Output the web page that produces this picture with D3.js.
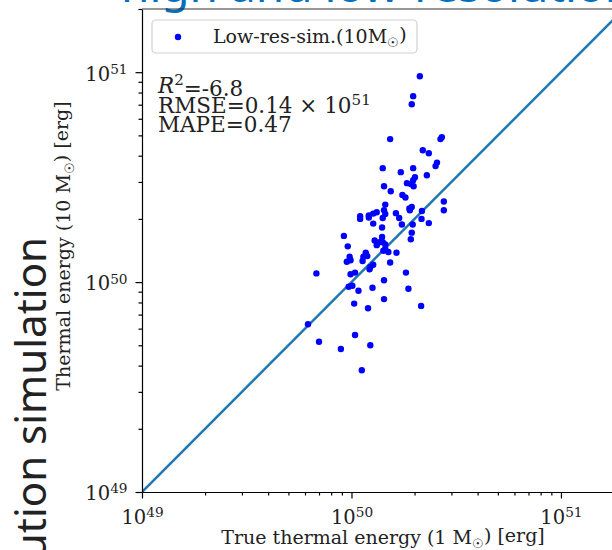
<!DOCTYPE html>
<html>
<head>
<meta charset="utf-8">
<title>Thermal energy: low-res vs true</title>
<style>
  body { margin: 0; background: white; }
  svg { display: block; font-family: "DejaVu Serif", serif; }
  .axis path, .axis line { stroke: black; stroke-width: 1.2; }
  .axis text { font-family: "DejaVu Serif", serif; font-size: 19.5px; fill: #222; }
</style>
</head>
<body>
<svg width="612" height="550"></svg>
<script src="https://d3js.org/d3.v7.min.js"></script>
<script>
// energies are in units of 1e50 erg
const trueEnergy = [
  2.12, 1.97, 1.94, 1.53, 2.66, 2.70, 2.19, 2.34, 1.41, 1.97,
  1.72, 2.56, 2.52, 2.29, 1.43, 1.54, 2.01, 1.97, 1.84, 1.92,
  1.98, 1.75, 1.81, 1.94, 2.76, 2.76, 2.17, 1.45, 1.89, 1.90,
  1.10, 1.10, 1.21, 1.21, 1.27, 1.32, 1.43, 1.45, 1.41, 1.63,
  1.69, 1.27, 1.40, 1.74, 1.96, 2.16, 2.34, 0.92, 1.40, 1.29,
  1.36, 1.41, 1.45, 1.32, 1.94, 1.92, 0.96, 1.45, 1.50, 1.42,
  1.64, 1.17, 1.19, 1.14, 1.13, 0.98, 0.95, 0.99, 1.27, 1.23,
  1.22, 1.53, 0.68, 0.99, 1.04, 1.82, 1.43, 0.97, 1.01, 1.08,
  1.26, 1.87, 1.43, 1.03, 1.20, 2.15, 0.62, 1.04, 0.70, 1.23,
  0.89, 1.12
];
const lowResEnergy = [
  9.57, 7.69, 7.04, 4.80, 4.80, 4.90, 4.25, 4.11, 3.49, 3.49,
  3.34, 3.71, 3.57, 3.23, 2.86, 2.71, 3.16, 3.06, 2.96, 2.93,
  2.86, 2.60, 2.53, 2.28, 2.42, 2.20, 2.18, 2.34, 2.24, 2.20,
  2.06, 2.00, 2.08, 2.03, 2.12, 2.15, 2.20, 2.11, 2.02, 2.13,
  2.02, 1.90, 1.82, 1.88, 1.88, 2.00, 1.91, 1.66, 1.64, 1.58,
  1.55, 1.55, 1.51, 1.50, 1.72, 1.60, 1.48, 1.44, 1.39, 1.41,
  1.38, 1.38, 1.33, 1.32, 1.26, 1.32, 1.25, 1.27, 1.21, 1.18,
  1.15, 1.24, 1.10, 1.09, 1.11, 1.11, 1.02, 0.95, 0.96, 0.91,
  0.94, 0.93, 0.83, 0.79, 0.75, 0.77, 0.63, 0.56, 0.52, 0.50,
  0.48, 0.38
];
const unit = 1e50;
const axisDomain = [1e49, 2e51];
const majorTicks = [1e49, 1e50, 1e51];
const minorTicks = [2, 3, 4, 5, 6, 7, 8, 9].flatMap(m => [m * 1e49, m * 1e50]).concat([2e51]);
const r2 = -6.8, rmse = 0.14, mape = 0.47;

const svg = d3.select("svg");
const x = d3.scaleLog().domain(axisDomain).range([142, 624]);
const y = d3.scaleLog().domain(axisDomain).range([492, 9]);

// slide fragments around the figure
svg.append("text")
  .attr("x", 121).attr("y", 1.5)
  .attr("font-family", "Noto Sans, sans-serif")
  .attr("font-size", 46)
  .attr("fill", "#0070C0")
  .text("high and low-resolution");

svg.append("text")
  .attr("transform", "translate(46,237) rotate(-90)")
  .attr("text-anchor", "end")
  .attr("font-family", "Noto Sans, sans-serif")
  .attr("font-size", 42)
  .attr("fill", "#222")
  .text("Low-resolution simulation");

const data = trueEnergy.map((t, i) => ({t: t * unit, l: lowResEnergy[i] * unit}));

svg.append("defs").append("clipPath").attr("id", "plot")
  .append("rect").attr("x", 142).attr("y", 9).attr("width", 482).attr("height", 483);

const plot = svg.append("g").attr("clip-path", "url(#plot)");

plot.append("line")
  .attr("x1", x(axisDomain[0])).attr("y1", y(axisDomain[0]))
  .attr("x2", x(axisDomain[1])).attr("y2", y(axisDomain[1]))
  .attr("stroke", "#1f77b4").attr("stroke-width", 2.5);

plot.selectAll("circle")
  .data(data)
  .enter()
    .append("circle")
    .attr("cx", d => x(d.t))
    .attr("cy", d => y(d.l))
    .attr("r", 3.2)
    .attr("fill", "blue");

function powLabel(sel) {
  sel.each(function(d) {
    const t = d3.select(this).text(null);
    t.append("tspan").text("10");
    t.append("tspan").attr("dy", "-0.5em").attr("font-size", "0.7em")
      .text(Math.round(Math.log10(d)));
  });
}

// minor ticks
svg.append("g").attr("class", "axis")
  .attr("transform", "translate(0,492)")
  .call(d3.axisBottom(x).tickValues(minorTicks).tickSize(3.5).tickFormat(""))
  .select(".domain").remove();
svg.append("g").attr("class", "axis")
  .attr("transform", "translate(142,0)")
  .call(d3.axisLeft(y).tickValues(minorTicks).tickSize(3.5).tickFormat(""))
  .select(".domain").remove();

const xAxis = svg.append("g").attr("class", "axis")
  .attr("transform", "translate(0,492)")
  .call(d3.axisBottom(x).tickValues(majorTicks).tickSize(6.5).tickSizeOuter(0).tickPadding(7));
xAxis.selectAll("text").attr("dy", "0.95em").call(powLabel);

const yAxis = svg.append("g").attr("class", "axis")
  .attr("transform", "translate(142,0)")
  .call(d3.axisLeft(y).tickValues(majorTicks).tickSize(6.5).tickSizeOuter(0).tickPadding(8));
yAxis.selectAll("text").attr("dy", "0.4em").call(powLabel);

// top spine
svg.append("line").attr("x1", 142).attr("x2", 624).attr("y1", 9).attr("y2", 9)
  .attr("stroke", "#333").attr("stroke-width", 1.2);

// axis labels
function msun(t, before, sun, after) {
  t.append("tspan").text(before);
  t.append("tspan").attr("font-size", "0.7em").attr("dy", "0.3em").text(sun);
  t.append("tspan").attr("dy", "-0.3em").text(after);
}
const xl = svg.append("text").attr("x", 383).attr("y", 544)
  .attr("text-anchor", "middle").attr("font-size", 19).attr("fill", "#222");
msun(xl, "True thermal energy (1 M", "\u2609", ") [erg]");

const yl = svg.append("text").attr("transform", "translate(70,246) rotate(-90)")
  .attr("text-anchor", "middle").attr("font-size", 19).attr("fill", "#222");
msun(yl, "Thermal energy (10 M", "\u2609", ") [erg]");

// legend
const lg = svg.append("g");
lg.append("rect").attr("x", 152).attr("y", 20).attr("width", 265).attr("height", 33)
  .attr("rx", 4).attr("fill", "white").attr("fill-opacity", 0.8)
  .attr("stroke", "#d0d0d0").attr("stroke-width", 1.2);
lg.append("circle").attr("cx", 178).attr("cy", 37).attr("r", 3.2).attr("fill", "blue");
const lt = lg.append("text").attr("x", 213).attr("y", 43).attr("font-size", 19).attr("fill", "#222");
msun(lt, "Low-res-sim.(10M", "\u2609", ")");

// metrics
const st = svg.append("g").attr("font-size", 21.5).attr("fill", "#222");
const s1 = st.append("text").attr("x", 158).attr("y", 93);
s1.append("tspan").attr("font-style", "italic").text("R");
s1.append("tspan").attr("font-size", "0.7em").attr("dy", "-0.5em").text("2");
s1.append("tspan").attr("dy", "0.5em").text("=" + r2);
const s2 = st.append("text").attr("x", 158).attr("y", 112.5);
s2.append("tspan").text("RMSE=" + rmse + " \u00d7 10");
s2.append("tspan").attr("font-size", "0.7em").attr("dy", "-0.5em").text("51");
st.append("text").attr("x", 158).attr("y", 132).text("MAPE=" + mape);
</script>
</body>
</html>
